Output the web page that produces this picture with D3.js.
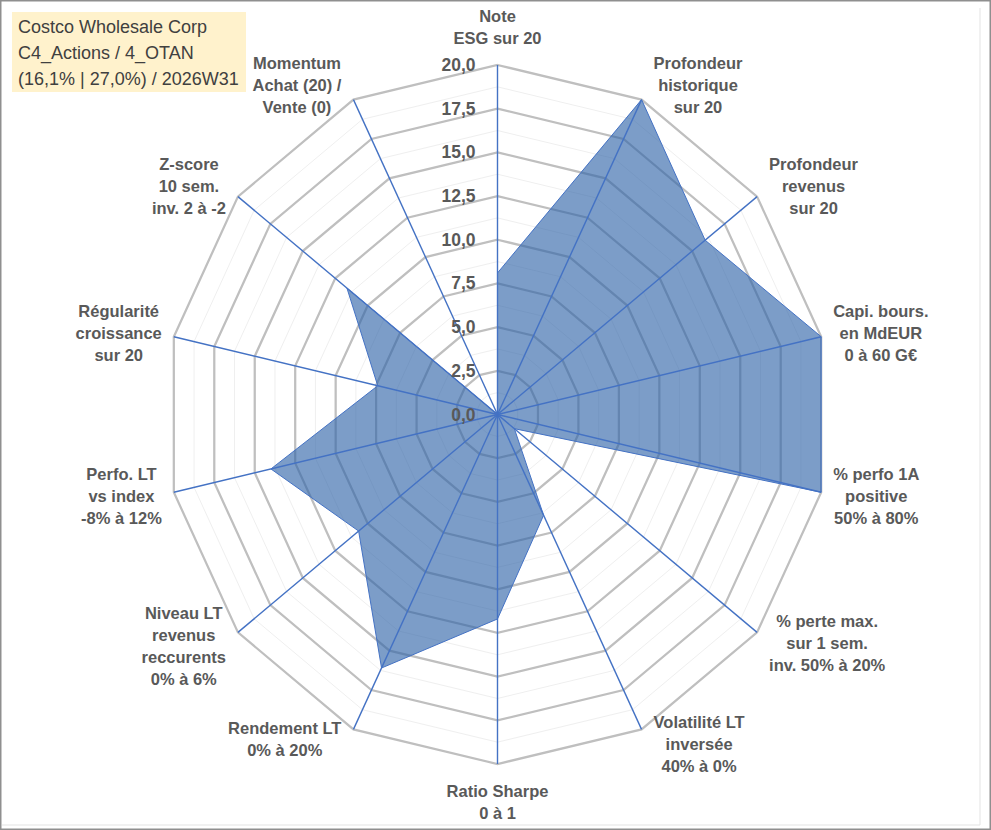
<!DOCTYPE html>
<html>
<head>
<meta charset="utf-8">
<script src="https://cdn.jsdelivr.net/npm/d3@7"></script>
<style>
  body { margin: 0; background: #fff; }
  svg { display: block; }
  text { font-family: "Liberation Sans", Arial, sans-serif; }
</style>
</head>
<body>
<script>
// axes of the radar, clockwise from the top
var categories = [
  ["Note", "ESG sur 20"],
  ["Profondeur", "historique", "sur 20"],
  ["Profondeur", "revenus", "sur 20"],
  ["Capi. bours.", "en MdEUR", "0 à 60 G€"],
  ["% perfo 1A", "positive", "50% à 80%"],
  ["% perte max.", "sur 1 sem.", "inv. 50% à 20%"],
  ["Volatilité LT", "inversée", "40% à 0%"],
  ["Ratio Sharpe", "0 à 1"],
  ["Rendement LT", "0% à 20%"],
  ["Niveau LT", "revenus", "reccurents", "0% à 6%"],
  ["Perfo. LT", "vs index", "-8% à 12%"],
  ["Régularité", "croissance", "sur 20"],
  ["Z-score", "10 sem.", "inv. 2 à -2"],
  ["Momentum", "Achat (20) /", "Vente (0)"]
];
var values = [8.1, 20, 16.0, 20, 20, 1.3, 6.4, 11.7, 16.1, 10.7, 14.0, 7.4, 11.6, 0];
var ticks = [0, 2.5, 5, 7.5, 10, 12.5, 15, 17.5, 20];
var minorTicks = [1.25, 3.75, 6.25, 8.75, 11.25, 13.75, 16.25, 18.75];
var titleLines = ["Costco Wholesale Corp", "C4_Actions / 4_OTAN", "(16,1% | 27,0%) / 2026W31"];

var w = 991, h = 830;
var cx = 497.5, cy = 414.5;
var n = categories.length;

var svg = d3.select('body').append('svg')
  .attr('width', w)
  .attr('height', h);

// frame
svg.append('rect')
  .attr('x', 0.75).attr('y', 0.75)
  .attr('width', w - 1.5).attr('height', h - 1.5)
  .attr('fill', '#fff')
  .attr('stroke', '#8f8f8f')
  .attr('stroke-width', 1.5);
svg.append('path')
  .attr('d', 'M980,8V825H2')
  .attr('fill', 'none')
  .attr('stroke', '#e3e3e3')
  .attr('stroke-width', 1);

// scales (the picture is a little narrower than it is tall)
var angle = d3.scaleLinear().domain([0, n]).range([0, 2 * Math.PI]);
var rX = d3.scaleLinear().domain([0, 20]).range([0, 332]);
var rY = d3.scaleLinear().domain([0, 20]).range([0, 349.5]);

var pt = function(i, v) {
  var a = angle(i);
  return [cx + rX(v) * Math.sin(a), cy - rY(v) * Math.cos(a)];
};

var ring = function(v) {
  return d3.range(n).map(function(i) { return pt(i, v); });
};

var line = d3.line().curve(d3.curveLinearClosed);

// minor grid
svg.selectAll('.minor')
  .data(minorTicks)
  .enter()
  .append('path')
  .attr('class', 'minor')
  .attr('d', function(d) { return line(ring(d)); })
  .attr('fill', 'none')
  .attr('stroke', '#efefef')
  .attr('stroke-width', 1);

// major grid
svg.selectAll('.major')
  .data(ticks.filter(function(t) { return t > 0; }))
  .enter()
  .append('path')
  .attr('class', 'major')
  .attr('d', function(d) { return line(ring(d)); })
  .attr('fill', 'none')
  .attr('stroke', '#bfbfbf')
  .attr('stroke-width', 2.25);

// series
svg.append('path')
  .datum(values.map(function(v, i) { return pt(i, v); }))
  .attr('d', line)
  .attr('fill', '#2f63a8')
  .attr('fill-opacity', 0.63)
  .attr('stroke', '#4472c4')
  .attr('stroke-width', 1);

// spokes
svg.selectAll('.spoke')
  .data(d3.range(n))
  .enter()
  .append('line')
  .attr('class', 'spoke')
  .attr('x1', cx).attr('y1', cy)
  .attr('x2', function(i) { return pt(i, 20)[0]; })
  .attr('y2', function(i) { return pt(i, 20)[1]; })
  .attr('stroke', '#4472c4')
  .attr('stroke-width', 1.4);

// tick labels
var fmt = d3.format('.1f');
svg.selectAll('.tick')
  .data(ticks)
  .enter()
  .append('text')
  .attr('class', 'tick')
  .attr('x', cx - 22)
  .attr('y', function(d) { return cy - rY(d); })
  .attr('text-anchor', 'end')
  .attr('dominant-baseline', 'central')
  .attr('font-size', '17.5px')
  .attr('font-weight', 'bold')
  .attr('fill', '#595959')
  .text(function(d) { return fmt(d).replace('.', ','); });

// category labels
var lh = 22;
categories.forEach(function(lines, i) {
  var g = svg.append('g');
  var txt = g.selectAll('text')
    .data(lines)
    .enter()
    .append('text')
    .attr('text-anchor', 'middle')
    .attr('dominant-baseline', 'central')
    .attr('font-size', '16.5px')
    .attr('font-weight', 'bold')
    .attr('fill', '#595959')
    .text(function(d) { return d; });
  var bw = d3.max(txt.nodes(), function(nd) { return nd.getComputedTextLength(); });
  var bh = lines.length * lh;
  var v = pt(i, 20);
  var a = angle(i);
  var dx = Math.sin(a), dy = -Math.cos(a);
  var lx, ly;
  if (Math.abs(dx) < 0.05) {
    lx = v[0];
    ly = v[1] + Math.sign(dy) * (bh / 2 + 16);
  } else {
    lx = v[0] + Math.sign(dx) * (bw / 2 + 12);
    ly = v[1] + dy * bh / 4;
  }
  txt.attr('x', lx)
    .attr('y', function(d, k) { return ly - bh / 2 + lh * k + lh / 2; });
});

// title box
svg.append('rect')
  .attr('x', 12).attr('y', 12)
  .attr('width', 234).attr('height', 80)
  .attr('fill', '#fff2cc');
svg.selectAll('.title')
  .data(titleLines)
  .enter()
  .append('text')
  .attr('class', 'title')
  .attr('x', 18)
  .attr('y', function(d, k) { return 27 + k * 26; })
  .attr('dominant-baseline', 'central')
  .attr('font-size', '18px')
  .attr('fill', '#404040')
  .text(function(d) { return d; });
</script>
</body>
</html>
